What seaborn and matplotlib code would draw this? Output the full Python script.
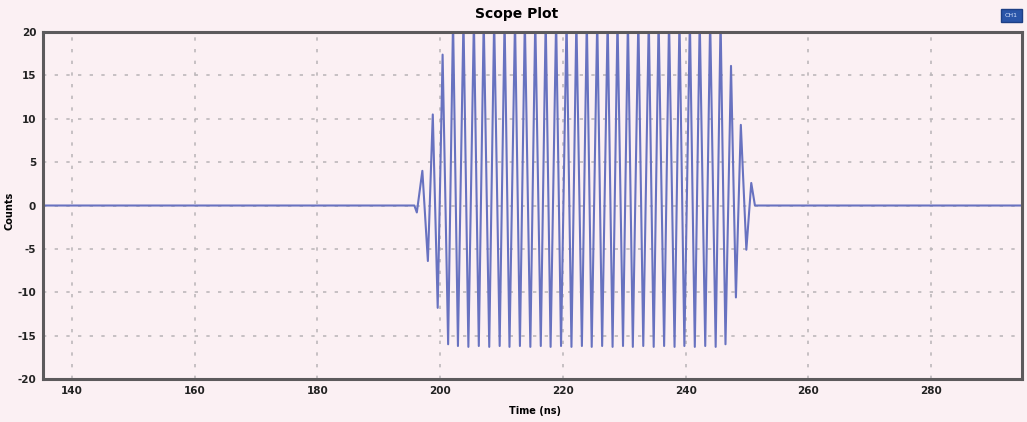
import matplotlib
matplotlib.use("Agg")
import matplotlib.pyplot as plt
import pandas as pd
import seaborn as sns

# peaks and troughs of the burst (time in ns, value in counts)
peak_times = [197.1, 198.8, 200.4, 202.1, 203.8, 205.5, 207.1, 208.8, 210.5, 212.2,
              213.8, 215.5, 217.2, 218.9, 220.6, 222.2, 223.9, 225.6, 227.3, 228.9,
              230.6, 232.3, 234.0, 235.6, 237.3, 239.0, 240.7, 242.3, 244.0, 245.7,
              247.4, 249.0, 250.7]
peak_values = [4.0, 10.5, 17.4, 21.5, 21.5, 21.5, 21.5, 21.5, 21.5, 21.5,
               21.5, 21.5, 21.5, 21.5, 21.5, 21.5, 21.5, 21.5, 21.5, 21.5,
               21.5, 21.5, 21.5, 21.5, 21.5, 21.5, 21.5, 21.5, 21.5, 21.5,
               16.1, 9.3, 2.6]
trough_times = [196.2, 198.0, 199.6, 201.3, 202.9, 204.6, 206.3, 208.0, 209.7, 211.3,
                213.0, 214.7, 216.4, 218.0, 219.7, 221.4, 223.1, 224.7, 226.4, 228.1,
                229.8, 231.4, 233.1, 234.8, 236.5, 238.2, 239.8, 241.5, 243.2, 244.9,
                246.5, 248.2, 249.9]
trough_values = [-0.8, -6.4, -11.8, -16.0, -16.2, -16.3, -16.2, -16.3, -16.2, -16.3,
                 -16.2, -16.3, -16.2, -16.3, -16.2, -16.3, -16.2, -16.3, -16.2, -16.3,
                 -16.2, -16.3, -16.2, -16.3, -16.2, -16.3, -16.2, -16.3, -16.2, -16.3,
                 -16.0, -10.6, -5.1]
# flat baseline before and after the burst
lead_times = [135.0, 195.8]
tail_times = [251.3, 295.0]

x_ticks = [140, 160, 180, 200, 220, 240, 260, 280]
y_ticks = [-20, -15, -10, -5, 0, 5, 10, 15, 20]

# build the trace: baseline, alternating trough/peak, baseline
times = list(lead_times)
values = [0.0, 0.0]
for tt, tv, pt, pv in zip(trough_times, trough_values, peak_times, peak_values):
    times += [tt, pt]
    values += [tv, pv]
times += tail_times
values += [0.0, 0.0]
df = pd.DataFrame({"time": times, "counts": values})

plt.rcParams["axes.unicode_minus"] = False

bg = "#fbf0f3"
fig = plt.figure(figsize=(10.27, 4.22), dpi=100, facecolor=bg)
ax = fig.add_axes([0.042, 0.102, 0.953, 0.822])
ax.set_facecolor(bg)

sns.lineplot(data=df, x="time", y="counts", ax=ax, estimator=None, sort=False,
             color="#6872c0", linewidth=1.5)

ax.set_xlim(135.3, 294.8)
ax.set_ylim(-20, 20)
ax.set_xticks(x_ticks)
ax.set_yticks(y_ticks)
ax.grid(True, linestyle=(0, (2, 5)), color="#bdb8bb", linewidth=1.2)
ax.tick_params(length=0, labelsize=7.5, colors="#222222", pad=5)
for lab in ax.get_xticklabels() + ax.get_yticklabels():
    lab.set_fontweight("bold")
for s in ax.spines.values():
    s.set_color("#5c5a5c")
    s.set_linewidth(2.2)

ax.set_xlabel("")
ax.set_ylabel("")
fig.text(0.521, 0.027, "Time (ns)", ha="center", va="center", fontsize=7, fontweight="bold")
fig.text(0.009, 0.50, "Counts", ha="center", va="center", rotation=90, fontsize=7, fontweight="bold")
fig.text(0.503, 0.968, "Scope Plot", ha="center", va="center", fontsize=10, fontweight="bold")
fig.text(0.985, 0.963, "CH1", ha="center", va="center", fontsize=4.5, color="#d8e4ff",
         bbox=dict(boxstyle="square,pad=0.6", facecolor="#2a55a8", edgecolor="#1d3f85"))

fig.savefig("out.png", dpi=100, facecolor=bg)
